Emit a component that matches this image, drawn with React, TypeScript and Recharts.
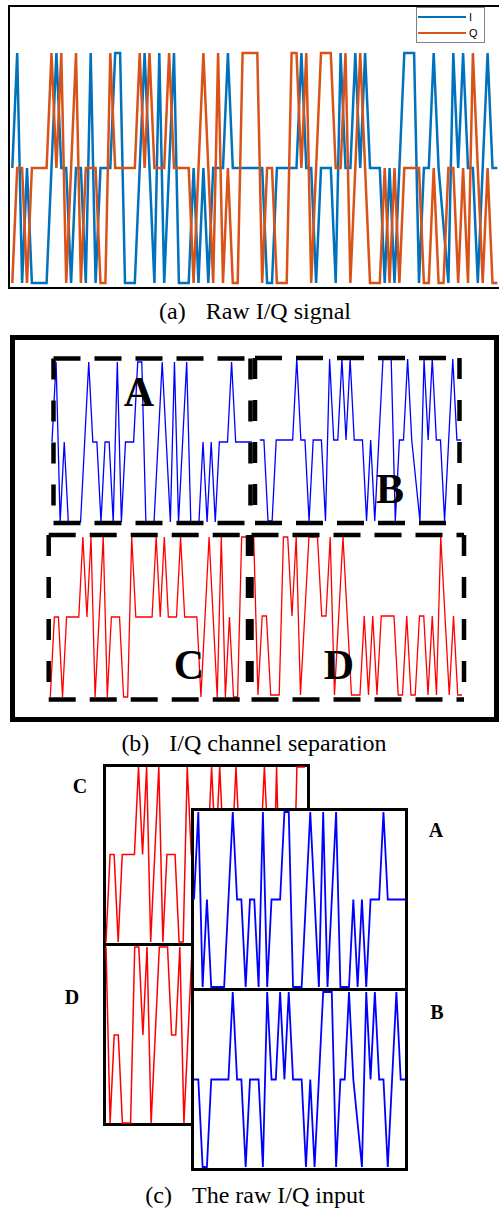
import { LineChart, Line, XAxis, YAxis, Legend } from 'recharts';

// I channel, split in halves (A = first, B = second)
const iFirstHalf = [
  0, 1, -1, 0, -1, -1, -1, -1, 0, 1, 0, 0, -1, 0, 0, -1, 1, -1, 0, 0, 0, 1, 1, -1, -1,
  -1, 0, 1, 0, -1, 1, -1, 0, 1, -1, -1, -1, 0, -1, 0, -1, 0, 0, 0, 1, 0, 0, 0, 0, 0,
];
const iSecondHalf = [
  0, 0, -1, -1, 0, 0, 0, 0, 0, 1, 0, 0, -1, 0, 0, 0, -1, 1, 0, 0, 1, 0, 1, 0, 0,
  0, -1, 0, -1, 0, 1, 1, 1, -1, 0, 0, 1, 0, -0.5, -1, 1, 0, 1, 0, 0, -1, 0, 1, 0, 0,
];
// Q channel, split in halves (C = first, D = second)
const qFirstHalf = [
  -1, 0, 0, -1, 0, 0, 0, 0, 1, 0, 1, -1, 0, 1, -1, 0, 0, 0, -1, -1, 1, 0, 0, 0, 0,
  0, 1, 0, 1, 0, 0, 0, 1, 0, 0, 0, 0, -1, 0, 1, 0, -1, 1, -1, 0, -1, -1, 1, 1, 1,
];
const qSecondHalf = [
  1, -1, 0, 0, -1, -1, -1, 1, 1, 0, 1, -1, 0, 1, 1, 1, 0, 0, 1, -1, 0, 1, 0, -1, -1,
  -1, 0, -1, 0, -1, 0, 0, 0, 0, -1, -1, 0, -1, -1, 0, 0, -1, 0, -1, 1, 0, -1, 0, -1, -1,
];

const seriesNames = ['I', 'Q'];
const iSignal = [...iFirstHalf, ...iSecondHalf];
const qSignal = [...qFirstHalf, ...qSecondHalf];
const rawRows = iSignal.map((v, i) => ({ i, I: v, Q: qSignal[i] }));

type Box = { left: number; top: number; width: number; height: number };
type Span = { x0: number; x1: number; yTop: number; yBot: number };

// map pixel positions of first/last sample and +1/-1 levels to axis domains
function domains(box: Box, span: Span, n: number) {
  const sx = (span.x1 - span.x0) / (n - 1);
  const sy = (span.yBot - span.yTop) / 2;
  return {
    x: [(box.left - span.x0) / sx, (box.left + box.width - span.x0) / sx],
    y: [1 - (box.top + box.height - span.yTop) / sy, 1 + (span.yTop - box.top) / sy],
  };
}

const zero = { top: 0, right: 0, bottom: 0, left: 0 };

function Trace({ values, color, width, box, span }: { values: number[]; color: string; width: number; box: Box; span: Span }) {
  const rows = values.map((v, i) => ({ i, v }));
  const d = domains(box, span, values.length);
  return (
    <div style={{ position: 'absolute', left: box.left, top: box.top }}>
      <LineChart width={box.width} height={box.height} data={rows} margin={zero}>
        <XAxis dataKey="i" type="number" domain={d.x} hide />
        <YAxis type="number" domain={d.y} hide />
        <Line type="linear" dataKey="v" stroke={color} strokeWidth={width} dot={false} isAnimationActive={false} />
      </LineChart>
    </div>
  );
}

function Frame({ left, top, width, height, border, bg }: { left: number; top: number; width: number; height: number; border: number; bg?: string }) {
  return (
    <div
      style={{
        position: 'absolute', left, top, width, height, boxSizing: 'border-box',
        border: `${border}px solid #000`, background: bg ?? 'transparent',
      }}
    />
  );
}

function DashedBox({ x1, y1, x2, y2 }: { x1: number; y1: number; x2: number; y2: number }) {
  return (
    <g stroke="#000" strokeWidth={4.5} fill="none">
      <line x1={x1} y1={y1} x2={x2} y2={y1} strokeDasharray="27 14" />
      <line x1={x1} y1={y2} x2={x2} y2={y2} strokeDasharray="27 14" />
      <line x1={x1} y1={y1} x2={x1} y2={y2} strokeDasharray="21 21" />
      <line x1={x2} y1={y1} x2={x2} y2={y2} strokeDasharray="21 21" />
    </g>
  );
}

const renderLegend = (props: any) => (
  <div
    style={{
      position: 'relative', width: 69, height: 36, boxSizing: 'border-box', border: '1px solid #808080',
      background: '#fff', fontFamily: '"Liberation Sans", Arial, sans-serif', fontSize: 11,
    }}
  >
    {(props.payload || []).map((p: any, k: number) => (
      <div key={k} style={{ position: 'absolute', left: 1, top: 3 + k * 16, height: 12, display: 'flex', alignItems: 'center' }}>
        <div style={{ width: 48, height: 2.5, background: p.color }} />
        <span style={{ marginLeft: 3, lineHeight: '12px' }}>{p.value}</span>
      </div>
    ))}
  </div>
);

const serif = '"Liberation Serif", "Times New Roman", serif';

function Caption({ top, center, label, text }: { top: number; center: number; label: string; text: string }) {
  return (
    <div
      style={{
        position: 'absolute', left: 0, width: center * 2, top, textAlign: 'center',
        fontFamily: serif, fontSize: 24, lineHeight: '24px', whiteSpace: 'nowrap',
      }}
    >
      <span style={{ marginRight: 20 }}>{label}</span>
      {text}
    </div>
  );
}

const rawBox: Box = { left: 10, top: 7, width: 490, height: 281 };
const rawDom = domains(rawBox, { x0: 12.3, x1: 497.4, yTop: 53, yBot: 283 }, iSignal.length);

export default function App() {
  return (
    <div style={{ position: 'absolute', left: 0, top: 0, width: 499, height: 1211, overflow: 'hidden', background: '#fff' }}>
      <style>{'.recharts-surface{overflow:visible}'}</style>

      {/* (a) raw I/Q */}
      <Frame left={8} top={5} width={496} height={284} border={2} />
      <div style={{ position: 'absolute', left: rawBox.left, top: rawBox.top }}>
        <LineChart width={rawBox.width} height={rawBox.height} data={rawRows} margin={zero}>
          <XAxis dataKey="i" type="number" domain={rawDom.x} hide />
          <YAxis type="number" domain={rawDom.y} hide />
          <Legend
            layout="vertical"
            align="center"
            verticalAlign="middle"
            content={renderLegend}
            wrapperStyle={{ left: 406, top: 0, width: 69, height: 36 }}
          />
          <Line type="linear" dataKey="I" name={seriesNames[0]} stroke="#0072BD" strokeWidth={2.5} dot={false} isAnimationActive={false} />
          <Line type="linear" dataKey="Q" name={seriesNames[1]} stroke="#D95319" strokeWidth={2.5} dot={false} isAnimationActive={false} />
        </LineChart>
      </div>
      <Caption top={299} center={255} label="(a)" text="Raw I/Q signal" />

      {/* (b) channel separation */}
      <Frame left={10} top={335} width={489} height={387} border={5} />
      <Trace values={iFirstHalf} color="#0000FF" width={1.3} box={{ left: 52, top: 357, width: 200, height: 168 }} span={{ x0: 51.6, x1: 252, yTop: 362, yBot: 522 }} />
      <Trace values={iSecondHalf} color="#0000FF" width={1.3} box={{ left: 255, top: 355, width: 207, height: 170 }} span={{ x0: 259.8, x1: 461, yTop: 359, yBot: 521 }} />
      <Trace values={qFirstHalf} color="#FF0000" width={1.3} box={{ left: 49, top: 534, width: 202, height: 166 }} span={{ x0: 50.3, x1: 249.8, yTop: 537, yBot: 697 }} />
      <Trace values={qSecondHalf} color="#FF0000" width={1.3} box={{ left: 252, top: 534, width: 212, height: 165 }} span={{ x0: 253.7, x1: 462, yTop: 537, yBot: 695 }} />
      <Caption top={731} center={254} label="(b)" text="I/Q channel separation" />

      {/* (c) stacked input */}
      <Frame left={103} top={764} width={207} height={182} border={3} bg="#fff" />
      <Trace values={qFirstHalf} color="#FF0000" width={1.5} box={{ left: 106, top: 767, width: 201, height: 176 }} span={{ x0: 105, x1: 305, yTop: 767, yBot: 942 }} />
      <Frame left={103} top={943} width={207} height={183} border={3} bg="#fff" />
      <Trace values={qSecondHalf} color="#FF0000" width={1.5} box={{ left: 106, top: 946, width: 201, height: 177 }} span={{ x0: 104, x1: 310, yTop: 947, yBot: 1123 }} />
      <Frame left={191} top={808} width={217} height={183} border={3} bg="#fff" />
      <Trace values={iFirstHalf} color="#0000FF" width={1.8} box={{ left: 194, top: 811, width: 211, height: 177 }} span={{ x0: 192.3, x1: 406, yTop: 812, yBot: 987 }} />
      <Frame left={191} top={988} width={217} height={183} border={3} bg="#fff" />
      <Trace values={iSecondHalf} color="#0000FF" width={1.8} box={{ left: 194, top: 991, width: 211, height: 177 }} span={{ x0: 192.7, x1: 406, yTop: 992, yBot: 1167 }} />
      <Caption top={1183} center={255} label="(c)" text="The raw I/Q input" />

      <svg width={499} height={1211} style={{ position: 'absolute', left: 0, top: 0, pointerEvents: 'none' }}>
        <DashedBox x1={53.5} y1={358.5} x2={250.5} y2={523} />
        <DashedBox x1={255} y1={358} x2={459.5} y2={523} />
        <DashedBox x1={48.7} y1={535} x2={248} y2={699.5} />
        <DashedBox x1={251.5} y1={535} x2={464} y2={699.5} />
        <g fontFamily={serif} fontWeight="bold" fill="#000" textAnchor="middle">
          <text x={139} y={406} fontSize={42}>A</text>
          <text x={390} y={503} fontSize={42}>B</text>
          <text x={189} y={679} fontSize={42}>C</text>
          <text x={339} y={679} fontSize={42}>D</text>
          <text x={80} y={793} fontSize={20}>C</text>
          <text x={436} y={837} fontSize={20}>A</text>
          <text x={72} y={1004} fontSize={20}>D</text>
          <text x={437} y={1019} fontSize={20}>B</text>
        </g>
      </svg>
    </div>
  );
}
